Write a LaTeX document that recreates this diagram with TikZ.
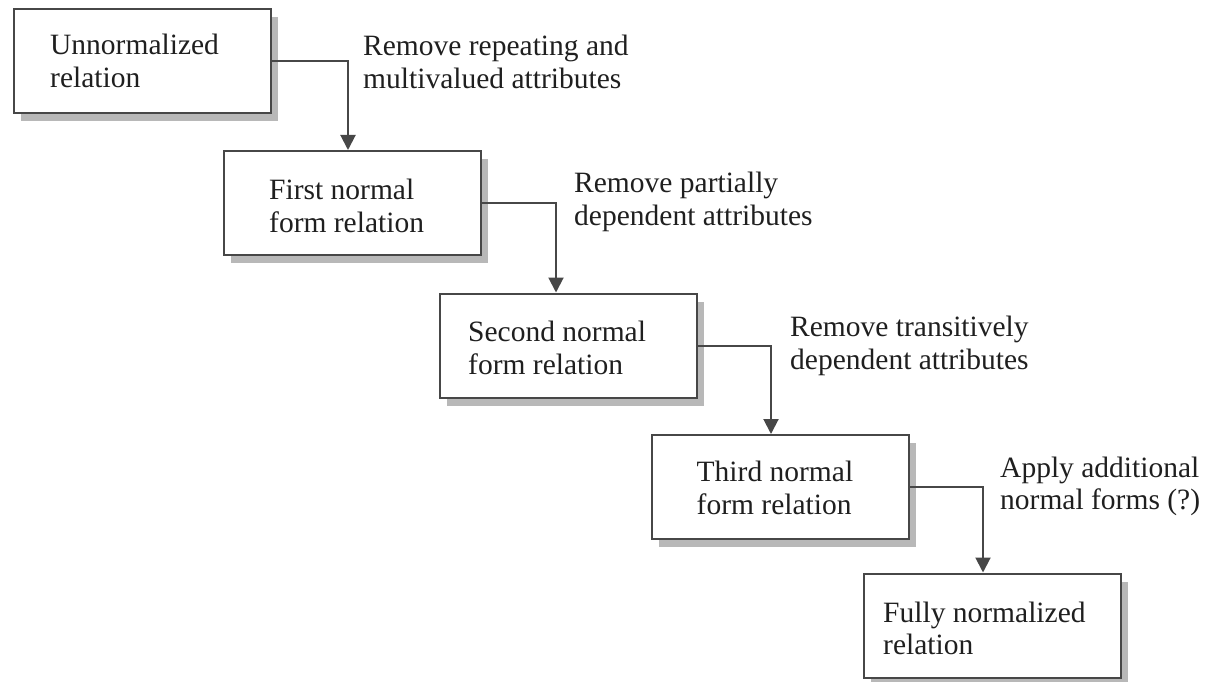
\documentclass[tikz,border=0pt]{standalone}
\usepackage{fontspec}
\setmainfont{Liberation Serif}
\usetikzlibrary{arrows.meta,shadows}
\begin{document}
\begin{tikzpicture}[x=1pt,y=-1pt,
  box/.style={draw=black!72,line width=2pt,fill=white,minimum width=257pt,minimum height=104pt,
    anchor=north west,inner sep=0pt,
    drop shadow={shadow xshift=7pt,shadow yshift=-8pt,fill=black!35,opacity=0.8}},
  txt/.style={anchor=base west,inner sep=0pt,text=black!88,font=\fontsize{29.5}{32.5}\selectfont},
  conn/.style={draw=black!72,line width=2pt,-{Triangle[width=15pt,length=15pt]}}]
\useasboundingbox (0,0) rectangle (1205,682);

\node[box] (b1) at (12.5,8.5) {};
\node[box] (b2) at (222.5,150) {};
\node[box] (b3) at (439,292.5) {};
\node[box] (b4) at (651,434) {};
\node[box] (b5) at (862.5,572.5) {};

\node[txt] (t1) at (50,55) {\begin{tabular}[t]{@{}l@{}}Unnormalized\\relation\end{tabular}};
\node[txt] (t2) at (269,199.5) {\begin{tabular}[t]{@{}l@{}}First normal\\form relation\end{tabular}};
\node[txt] (t3) at (468,341.5) {\begin{tabular}[t]{@{}l@{}}Second normal\\form relation\end{tabular}};
\node[txt] (t4) at (696.5,481.5) {\begin{tabular}[t]{@{}l@{}}Third normal\\form relation\end{tabular}};
\node[txt] (t5) at (883,622) {\begin{tabular}[t]{@{}l@{}}Fully normalized\\relation\end{tabular}};

\node[txt] (l1) at (363,56) {\begin{tabular}[t]{@{}l@{}}Remove repeating and\\multivalued attributes\end{tabular}};
\node[txt] (l2) at (574,192.5) {\begin{tabular}[t]{@{}l@{}}Remove partially\\dependent attributes\end{tabular}};
\node[txt] (l3) at (790,336.5) {\begin{tabular}[t]{@{}l@{}}Remove transitively\\dependent attributes\end{tabular}};
\node[txt] (l4) at (1000,477) {\begin{tabular}[t]{@{}l@{}}Apply additional\\normal forms (?)\end{tabular}};

\draw[conn] (b1.east) -| ([xshift=-4pt]b2.north);
\draw[conn] (b2.east) -| ([xshift=-12.5pt]b3.north);
\draw[conn] (b3.east) -| ([xshift=-9.5pt]b4.north);
\draw[conn] (b4.east) -| ([xshift=-9pt]b5.north);
\end{tikzpicture}
\end{document}
